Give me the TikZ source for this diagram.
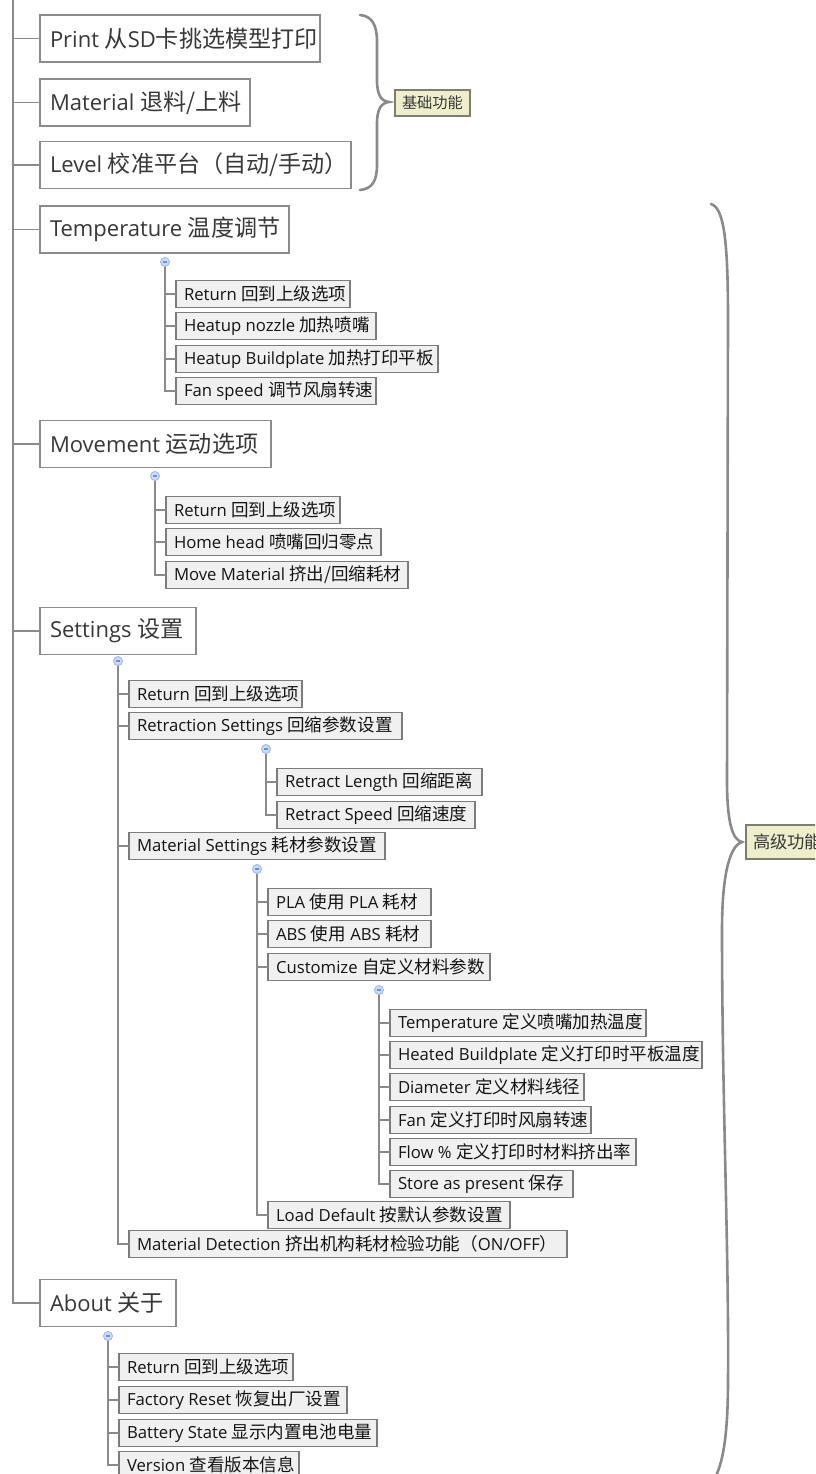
\documentclass[tikz,border=0pt]{standalone}
\usepackage{fontspec}
\setmainfont{Open Sans}
\newfontfamily\cjk{Noto Sans CJK SC}[Scale=1.05]
\newcommand\zh[1]{{\cjk #1}}
\definecolor{lineGray}{HTML}{8A8A8A}
\definecolor{bigBorder}{HTML}{8C8C8C}
\definecolor{smallBorder}{HTML}{7C7C7C}
\definecolor{smallFill}{HTML}{F0F0F0}
\definecolor{bigText}{HTML}{383838}
\definecolor{smallText}{HTML}{141414}
\definecolor{circFill}{HTML}{CCDCF8}
\definecolor{circBorder}{HTML}{9DB8EC}
\definecolor{circMinus}{HTML}{6F8FD0}
\definecolor{lblFill}{HTML}{EEEECD}
\definecolor{lblBorder}{HTML}{7E7E6E}
\tikzset{
  bigbox/.style={draw=bigBorder, line width=1.8pt, fill=white, minimum height=47pt, inner sep=0pt, outer sep=0pt, anchor=west},
  bigtext/.style={anchor=west, inner sep=0pt, minimum width=0pt, minimum height=0pt, draw=none, fill=none, text=bigText, font=\fontsize{22}{26}\selectfont},
  smallbox/.style={draw=smallBorder, line width=1.6pt, fill=smallFill, minimum height=27pt, inner sep=0pt, outer sep=0pt, anchor=west},
  smalltext/.style={anchor=west, inner sep=0pt, minimum width=0pt, minimum height=0pt, draw=none, fill=none, text=smallText, font=\fontsize{16.7}{19}\selectfont},
  conn/.style={draw=lineGray, line width=1.5pt},
  brace/.style={draw=lineGray, line width=2.6pt, line cap=round},
  collapse/.style={circle, minimum size=9pt, inner sep=0pt, outer sep=0pt, fill=circFill, draw=circBorder, line width=0.9pt,
    path picture={\draw[circMinus, line width=1.3pt] ([xshift=-2pt]path picture bounding box.center) -- ([xshift=2pt]path picture bounding box.center);}},
  lbl/.style={draw=lblBorder, line width=1.4pt, fill=lblFill, inner xsep=7pt, inner ysep=0pt, outer sep=0pt, anchor=west, text=bigText}
}
\newcommand\bigbx[5]{%
  \node[bigbox, minimum width={(#3-#2)*1pt},
    path picture={\node[bigtext] (#1-t) at ([xshift=10pt]path picture bounding box.west) {#5};}] (#1) at (#2,#4) {};}
\newcommand\smallbx[5]{%
  \node[smallbox, minimum width={(#3-#2)*1pt},
    path picture={\node[smalltext] (#1-t) at ([xshift=8pt]path picture bounding box.west) {#5};}] (#1) at (#2,#4) {};}
\begin{document}
\begin{tikzpicture}[x=1pt,y=-1pt]
\useasboundingbox (0,0) rectangle (815,1474);
\clip (0,0) rectangle (815,1474);

% top-level nodes
\bigbx{print}{40}{320}{38.5}{Print \zh{从}SD\zh{卡挑选模型打印}}
\bigbx{material}{40}{250}{102.5}{Material \zh{退料/上料}}
\bigbx{level}{40}{351}{165}{Level \zh{校准平台（自动/手动）}}
\bigbx{temperature}{40}{289}{229.5}{Temperature \zh{温度调节}}
\bigbx{movement}{40}{271}{444}{Movement \zh{运动选项}}
\bigbx{settings}{40}{196}{631}{Settings \zh{设置}}
\bigbx{about}{40}{176}{1303}{About \zh{关于}}

% main spine
\coordinate (top) at (13,0);
\draw[conn] (top) |- (about.west);
\foreach \n in {print,material,level,temperature,movement,settings}
  \draw[conn] (top |- \n.west) -- (\n.west);

% Temperature
\node[collapse] (cTemp) at (165,262) {};
\smallbx{t1}{176}{350}{294}{Return \zh{回到上级选项}}
\smallbx{t2}{176}{376}{326}{Heatup nozzle \zh{加热喷嘴}}
\smallbx{t3}{176}{438}{359}{Heatup Buildplate \zh{加热打印平板}}
\smallbx{t4}{176}{376}{391}{Fan speed \zh{调节风扇转速}}
\draw[conn] (cTemp.south) |- (t4.west);
\foreach \n in {t1,t2,t3} \draw[conn] (cTemp.south |- \n.west) -- (\n.west);

% Movement
\node[collapse] (cMove) at (155,476) {};
\smallbx{m1}{166}{340}{510}{Return \zh{回到上级选项}}
\smallbx{m2}{166}{381}{542}{Home head \zh{喷嘴回归零点}}
\smallbx{m3}{166}{408}{575}{Move Material \zh{挤出/回缩耗材}}
\draw[conn] (cMove.south) |- (m3.west);
\foreach \n in {m1,m2} \draw[conn] (cMove.south |- \n.west) -- (\n.west);

% Settings
\node[collapse] (cSet) at (118,661) {};
\smallbx{s1}{129}{302}{694}{Return \zh{回到上级选项}}
\smallbx{s2}{129}{402}{726}{Retraction Settings \zh{回缩参数设置}}
\smallbx{s3}{129}{385}{846}{Material Settings \zh{耗材参数设置}}
\smallbx{s4}{129}{567}{1244}{Material Detection \zh{挤出机构耗材检验功能（}ON/OFF\zh{）}}
\draw[conn] (cSet.south) |- (s4.west);
\foreach \n in {s1,s2,s3} \draw[conn] (cSet.south |- \n.west) -- (\n.west);

% Retraction
\node[collapse] (cRetr) at (266,749) {};
\smallbx{r1}{277}{482}{782}{Retract Length \zh{回缩距离}}
\smallbx{r2}{277}{475}{815}{Retract Speed \zh{回缩速度}}
\draw[conn] (cRetr.south) |- (r2.west);
\draw[conn] (cRetr.south |- r1.west) -- (r1.west);

% Material settings
\node[collapse] (cMat) at (257,869) {};
\smallbx{p1}{268}{431}{902}{PLA \zh{使用} PLA \zh{耗材}}
\smallbx{p2}{268}{431}{934}{ABS \zh{使用} ABS \zh{耗材}}
\smallbx{p3}{268}{490}{967}{Customize \zh{自定义材料参数}}
\smallbx{p4}{268}{510}{1215}{Load Default \zh{按默认参数设置}}
\draw[conn] (cMat.south) |- (p4.west);
\foreach \n in {p1,p2,p3} \draw[conn] (cMat.south |- \n.west) -- (\n.west);

% Customize
\node[collapse] (cCust) at (379,990) {};
\smallbx{c1}{390}{646}{1023}{Temperature \zh{定义喷嘴加热温度}}
\smallbx{c2}{390}{702}{1055}{Heated Buildplate \zh{定义打印时平板温度}}
\smallbx{c3}{390}{584}{1087}{Diameter \zh{定义材料线径}}
\smallbx{c4}{390}{591}{1120}{Fan \zh{定义打印时风扇转速}}
\smallbx{c5}{390}{636}{1152}{Flow \% \zh{定义打印时材料挤出率}}
\smallbx{c6}{390}{573}{1184}{Store as present \zh{保存}}
\draw[conn] (cCust.south) |- (c6.west);
\foreach \n in {c1,c2,c3,c4,c5} \draw[conn] (cCust.south |- \n.west) -- (\n.west);

% About
\node[collapse] (cAbout) at (108,1336) {};
\smallbx{a1}{119}{293}{1367}{Return \zh{回到上级选项}}
\smallbx{a2}{119}{347}{1400}{Factory Reset \zh{恢复出厂设置}}
\smallbx{a3}{119}{377}{1433}{Battery State \zh{显示内置电池电量}}
\smallbx{a4}{119}{299}{1465}{Version \zh{查看版本信息}}
\draw[conn] (cAbout.south) |- (a4.west);
\foreach \n in {a1,a2,a3} \draw[conn] (cAbout.south |- \n.west) -- (\n.west);

% braces and labels
\draw[brace] (360,15) .. controls (372,16) and (377,25) .. (377,42) -- (377,80)
  .. controls (377,95) and (381,101) .. (389,102)
  .. controls (381,103) and (377,109) .. (377,124) -- (377,165)
  .. controls (377,181) and (372,189) .. (360,190);
\node[lbl, minimum height=26pt, font=\fontsize{14.5}{16}\selectfont] (basic) at (395,103) {\zh{基础功能}};

\draw[brace] (711,204) .. controls (724,208) and (728,240) .. (728,320) -- (727,780)
  .. controls (727,825) and (733,840) .. (742,842)
  .. controls (731,845) and (722,870) .. (722,930)
  .. controls (722,1100) and (729,1250) .. (728,1380)
  .. controls (728,1440) and (722,1470) .. (711,1484);
\node[lbl, minimum height=34pt, font=\fontsize{16.5}{19}\selectfont] (advanced) at (746,842) {\zh{高级功能}};
\end{tikzpicture}
\end{document}
